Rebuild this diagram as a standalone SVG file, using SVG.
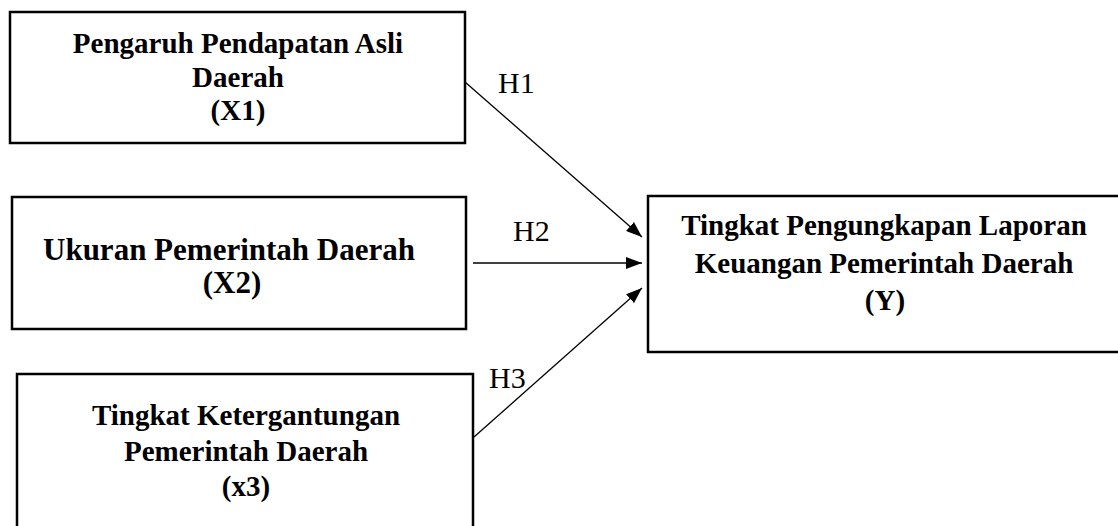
<svg xmlns="http://www.w3.org/2000/svg" width="1118" height="526" viewBox="0 0 1118 526">
<style>
.box{fill:#fff;stroke:#000;stroke-width:2.5}
.t{font-family:"Liberation Serif","Times New Roman",serif;font-weight:bold;font-size:29px;text-anchor:middle;fill:#000}
.t2{font-size:31px}
.h{font-family:"Liberation Serif","Times New Roman",serif;font-size:30px;fill:#000}
.c{stroke:#000;stroke-width:1.3;fill:none}
</style>
<defs>
<marker id="ah" markerUnits="userSpaceOnUse" markerWidth="16" markerHeight="12" refX="16" refY="6" orient="auto">
<path d="M0,0 L16,6 L0,12 Z" fill="#000"/>
</marker>
</defs>
<rect width="1118" height="526" fill="#fff"/>
<g id="x1">
<rect class="box" x="10" y="12" width="455" height="131"/>
<text class="t" x="238" y="53">Pengaruh Pendapatan Asli</text>
<text class="t" x="238" y="87">Daerah</text>
<text class="t" x="238" y="120">(X1)</text>
</g>
<g id="x2">
<rect class="box" x="12" y="197" width="454" height="132"/>
<text class="t t2" x="229" y="260">Ukuran Pemerintah Daerah</text>
<text class="t t2" x="232" y="293">(X2)</text>
</g>
<g id="x3">
<rect class="box" x="17" y="374" width="456" height="200"/>
<text class="t" x="246" y="425">Tingkat Ketergantungan</text>
<text class="t" x="246" y="461">Pemerintah Daerah</text>
<text class="t" x="246" y="496">(x3)</text>
</g>
<g id="y">
<rect class="box" x="648" y="196" width="500" height="156"/>
<text class="t" x="884" y="235">Tingkat Pengungkapan Laporan</text>
<text class="t" x="884" y="273">Keuangan Pemerintah Daerah</text>
<text class="t" x="885" y="310">(Y)</text>
</g>
<g id="connectors">
<line class="c" x1="465" y1="82" x2="642" y2="237" marker-end="url(#ah)"/>
<line class="c" x1="473" y1="263" x2="642" y2="263" marker-end="url(#ah)"/>
<line class="c" x1="474" y1="437" x2="642" y2="288" marker-end="url(#ah)"/>
<text class="h" x="498" y="93">H1</text>
<text class="h" x="513" y="241">H2</text>
<text class="h" x="489" y="388">H3</text>
</g>
</svg>
